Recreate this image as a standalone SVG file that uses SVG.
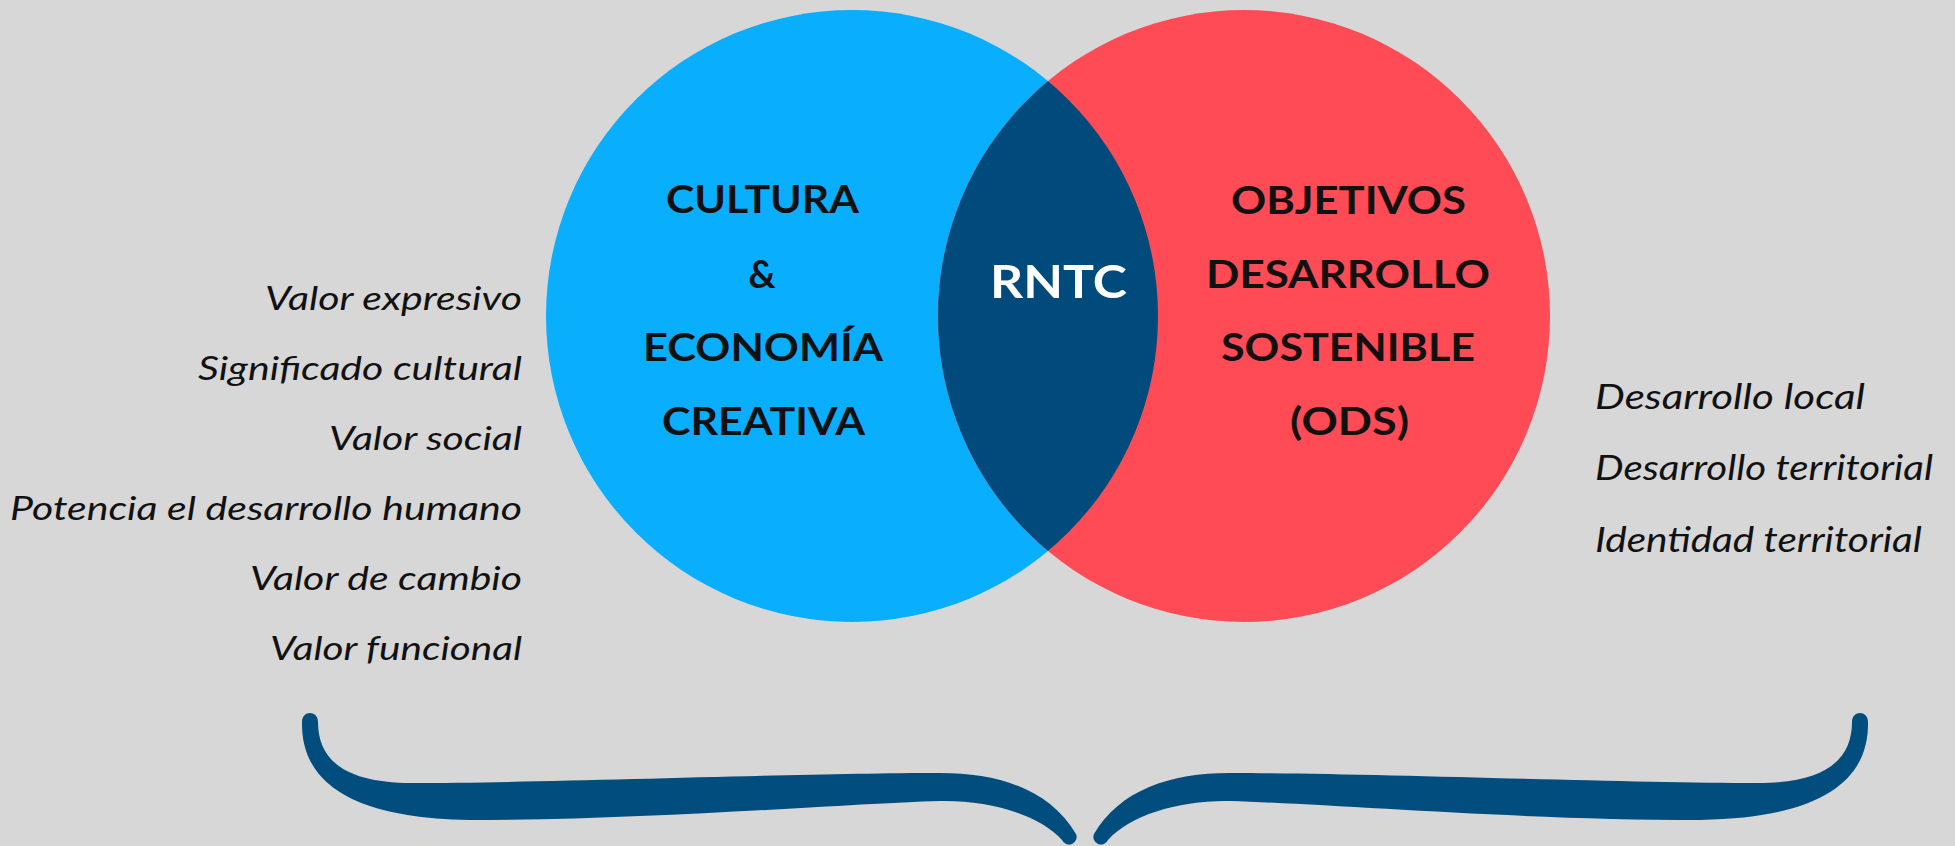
<svg xmlns="http://www.w3.org/2000/svg" xmlns:xlink="http://www.w3.org/1999/xlink" width="1955" height="846" viewBox="0 0 1955 846">
  <style>
    .bold { font-family: Lato, "Liberation Sans", sans-serif; font-weight: 700; font-size: 38px; fill: #111111; }
    .rntc { font-family: Lato, "Liberation Sans", sans-serif; font-weight: 700; font-size: 46px; fill: #ffffff; }
    .ital { font-family: Lato, "Liberation Sans", sans-serif; font-style: italic; font-weight: 400; font-size: 33px; fill: #111111; }
    .itr { font-family: Lato, "Liberation Sans", sans-serif; font-style: italic; font-weight: 400; font-size: 35px; fill: #111111; }
  </style>
  <defs>
    <clipPath id="blueClip">
      <circle cx="852" cy="316" r="306"/>
    </clipPath>
    <path id="halfBrace" d="M 302,722 C 301,775 340,818 470,820 C 650,820 840,804 940,801 C 990,800 1040,815 1062,840 A 7,7 0 0 0 1076,834 C 1050,790 1000,773 940,773 C 800,773 550,783 412,783 C 345,783 318,760 318,722 C 318,710 302,710 302,722 Z"/>
  </defs>
  <rect x="0" y="0" width="1955" height="846" fill="#d7d7d7"/>

  <g id="circle-cultura">
    <circle cx="852" cy="316" r="306" fill="#09aefd"/>
    <text class="bold" x="666" y="213" textLength="193" lengthAdjust="spacingAndGlyphs">CULTURA</text>
    <text class="bold" x="762" y="288" text-anchor="middle">&amp;</text>
    <text class="bold" x="643" y="361" textLength="240" lengthAdjust="spacingAndGlyphs">ECONOMÍA</text>
    <text class="bold" x="662" y="435" textLength="203" lengthAdjust="spacingAndGlyphs">CREATIVA</text>
  </g>

  <g id="circle-ods">
    <circle cx="1244" cy="316" r="306" fill="#fe4b55"/>
  </g>

  <g id="rntc">
    <circle cx="1244" cy="316" r="306" fill="#004b7b" clip-path="url(#blueClip)"/>
    <text class="rntc" x="990" y="298" textLength="137" lengthAdjust="spacingAndGlyphs">RNTC</text>
  </g>

  <g id="ods-text">
    <text class="bold" x="1231" y="214" textLength="235" lengthAdjust="spacingAndGlyphs">OBJETIVOS</text>
    <text class="bold" x="1206" y="288" textLength="284" lengthAdjust="spacingAndGlyphs">DESARROLLO</text>
    <text class="bold" x="1221" y="361" textLength="254" lengthAdjust="spacingAndGlyphs">SOSTENIBLE</text>
    <text class="bold" x="1290" y="435" textLength="119" lengthAdjust="spacingAndGlyphs">(ODS)</text>
  </g>

  <g id="left-values">
    <text class="ital" x="265" y="310" textLength="257" lengthAdjust="spacingAndGlyphs">Valor expresivo</text>
    <text class="ital" x="198" y="380" textLength="324" lengthAdjust="spacingAndGlyphs">Significado cultural</text>
    <text class="ital" x="329" y="450" textLength="193" lengthAdjust="spacingAndGlyphs">Valor social</text>
    <text class="ital" x="10" y="520" textLength="512" lengthAdjust="spacingAndGlyphs">Potencia el desarrollo humano</text>
    <text class="ital" x="250" y="590" textLength="272" lengthAdjust="spacingAndGlyphs">Valor de cambio</text>
    <text class="ital" x="270" y="660" textLength="252" lengthAdjust="spacingAndGlyphs">Valor funcional</text>
  </g>

  <g id="right-values">
    <text class="itr" x="1595" y="409" textLength="270" lengthAdjust="spacingAndGlyphs">Desarrollo local</text>
    <text class="itr" x="1595" y="480" textLength="338" lengthAdjust="spacingAndGlyphs">Desarrollo territorial</text>
    <text class="itr" x="1595" y="552" textLength="327" lengthAdjust="spacingAndGlyphs">Identidad territorial</text>
  </g>

  <g id="connectors">
    <g id="brace" fill="#004d7e">
      <use href="#halfBrace" xlink:href="#halfBrace"/>
      <use href="#halfBrace" xlink:href="#halfBrace" transform="translate(2170,0) scale(-1,1)"/>
    </g>
  </g>
</svg>
